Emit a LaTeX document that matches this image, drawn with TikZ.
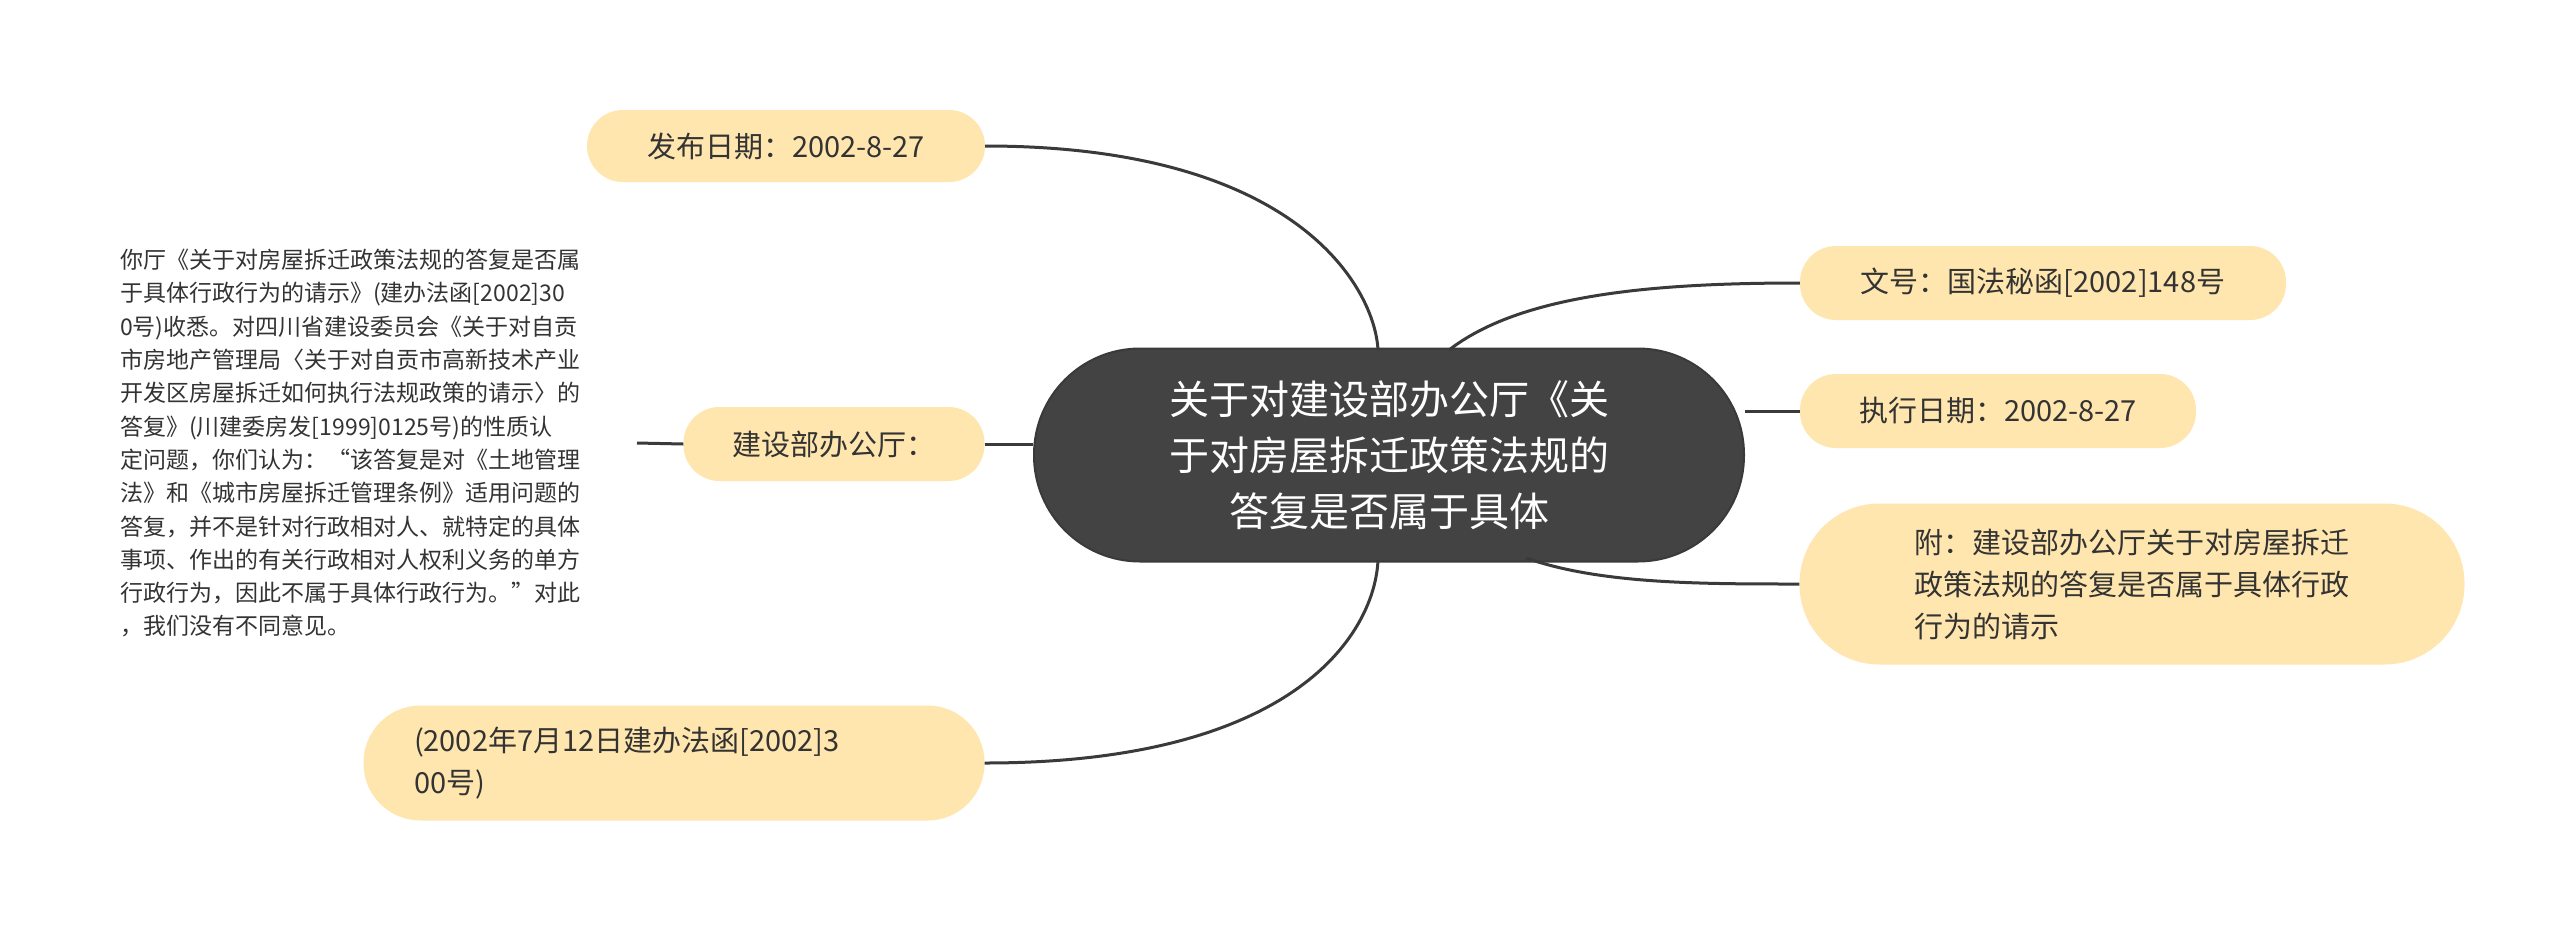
\documentclass[tikz,border=0pt]{standalone}
\usepackage{fontspec}
\setmainfont{Noto Sans CJK SC}
\begin{document}
\begin{tikzpicture}[x=1pt,y=-1pt,
  leaf/.style={fill=peach,rounded corners=36pt,text=txt,font=\fontsize{29}{42}\selectfont,inner sep=0pt},
  conn/.style={draw=lc,line width=3pt}]
\definecolor{peach}{HTML}{FFE6AE}
\definecolor{txt}{HTML}{333333}
\definecolor{lc}{HTML}{3A3A3A}
\definecolor{dark}{HTML}{434343}
\useasboundingbox (0,0) rectangle (2560,927);
\fill[white] (0,0) rectangle (2560,927);
\node[fill=dark,draw=lc,line width=2pt,rounded corners=106pt,minimum width=710pt,minimum height=213pt,text=white,align=center,font=\fontsize{40}{56}\selectfont] (c) at (1389,455) {关于对建设部办公厅《关\\于对房屋拆迁政策法规的\\答复是否属于具体};
\node[leaf,minimum width=398pt,minimum height=72pt] (a) at (786,146) {发布日期：2002-8-27};
\node[leaf,minimum width=486pt,minimum height=74pt] (b) at (2043,283) {文号：国法秘函[2002]148号};
\node[leaf,minimum width=396pt,minimum height=74pt] (d) at (1998,411) {执行日期：2002-8-27};
\node[leaf,minimum width=665pt,minimum height=161pt,rounded corners=80pt,align=left] (e) at (2132,584) {附：建设部办公厅关于对房屋拆迁\\政策法规的答复是否属于具体行政\\行为的请示};
\node[leaf,minimum width=301pt,minimum height=74pt] (f) at (834,444) {建设部办公厅：};
\node[leaf,minimum width=621pt,minimum height=115pt,rounded corners=57pt,align=left,text width=520pt] (g) at (674,763) {(2002年7月12日建办法函[2002]3\\00号)};
\node[anchor=north west,align=left,text=txt,font=\fontsize{23}{33.3}\selectfont,inner sep=0pt] (t) at (120,249) {你厅《关于对房屋拆迁政策法规的答复是否属\\于具体行政行为的请示》(建办法函[2002]30\\0号)收悉。对四川省建设委员会《关于对自贡\\市房地产管理局〈关于对自贡市高新技术产业\\开发区房屋拆迁如何执行法规政策的请示〉的\\答复》(川建委房发[1999]0125号)的性质认\\定问题，你们认为：“该答复是对《土地管理\\法》和《城市房屋拆迁管理条例》适用问题的\\答复，并不是针对行政相对人、就特定的具体\\事项、作出的有关行政相对人权利义务的单方\\行政行为，因此不属于具体行政行为。”对此\\，我们没有不同意见。};
\coordinate (tl) at (637,443);
\draw[conn] (a.east) .. controls (1300,146) and (1375,290) .. (1378,350);
\draw[conn] (g.east) .. controls (1300,763) and (1375,630) .. (1378,560);
\draw[conn] (1449,350) .. controls (1520,295) and (1650,283) .. (b.west);
\draw[conn] (c.east|-d.west) -- (d.west);
\draw[conn] (1526,558) .. controls (1600,584) and (1700,584) .. (e.west);
\draw[conn] (f.east) -- (f.east-|c.west);
\draw[conn] (tl) -- (f.west);
\end{tikzpicture}
\end{document}
